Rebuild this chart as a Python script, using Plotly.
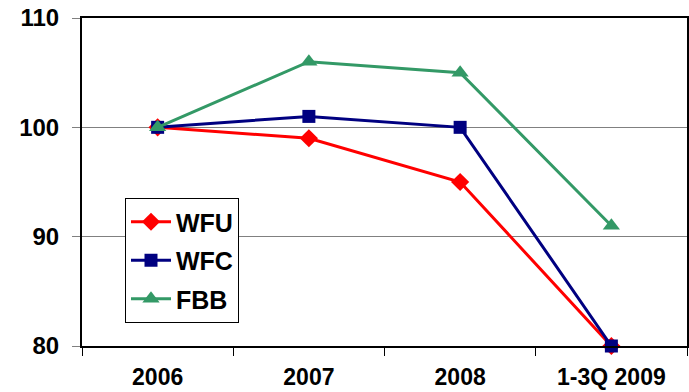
import plotly.graph_objects as go

# Index values (2006 = 100)
periods = ["2006", "2007", "2008", "1-3Q 2009"]
wfu = [100, 99, 95, 80]
wfc = [100, 101, 100, 80]
fbb = [100, 106, 105, 91]

y_ticks = [80, 90, 100, 110]

FONT = "Liberation Sans, Arial, sans-serif"

series = [
    ("WFU", wfu, "#FF0000", "diamond", 14),
    ("WFC", wfc, "#000080", "square", 13),
    ("FBB", fbb, "#339966", "triangle-up", 15),
]

fig = go.Figure()
for name, vals, color, symbol, size in series:
    fig.add_trace(go.Scatter(
        x=periods, y=vals, name=name, mode="lines+markers",
        line=dict(color=color, width=3),
        marker=dict(symbol=symbol, size=size, color=color),
        cliponaxis=False, legendgroup=name,
    ))

fig.update_layout(
    width=689, height=392,
    margin=dict(l=82, r=2, t=18, b=46),
    plot_bgcolor="white", paper_bgcolor="white",
    font=dict(family=FONT, color="black"),
    showlegend=True,
    legend=dict(
        x=(125 - 82) / (687 - 82), y=1 - (198 - 18) / (346 - 18),
        xanchor="left", yanchor="top",
        bordercolor="black", borderwidth=1, bgcolor="white",
        font=dict(family=FONT, size=25, weight="bold", color="black"),
        tracegroupgap=3, itemwidth=40,
    ),
    xaxis=dict(
        type="category", range=[-0.5, 3.5], automargin=False,
        tickson="boundaries", ticks="outside", ticklen=8, tickcolor="black", tickwidth=1,
        showline=True, linecolor="black", linewidth=2, mirror=True,
        showgrid=False,
        tickfont=dict(family=FONT, size=23, weight="bold", color="black"),
        ticklabelstandoff=9,
    ),
    yaxis=dict(
        range=[80, 110], tickvals=y_ticks, automargin=False,
        ticks="outside", ticklen=8, tickcolor="#808080", tickwidth=1,
        showline=True, linecolor="black", linewidth=2, mirror=True,
        showgrid=True, gridcolor="#808080", gridwidth=1,
        zeroline=False,
        tickfont=dict(family=FONT, size=24, weight="bold", color="black"),
        ticklabelstandoff=8,
    ),
)

fig.write_html("out.html")
